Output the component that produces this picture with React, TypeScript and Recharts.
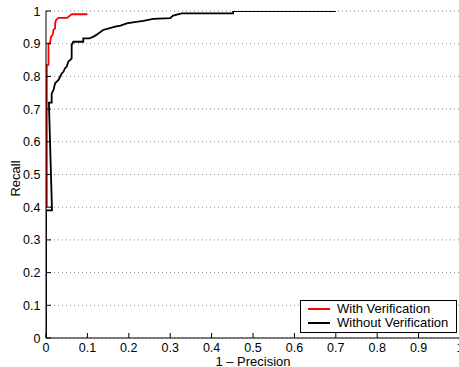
import React from 'react';
import { LineChart, Line, XAxis, YAxis, CartesianGrid } from 'recharts';

// Tick values / labels
const xTicks = [0, 0.1, 0.2, 0.3, 0.4, 0.5, 0.6, 0.7, 0.8, 0.9, 1];
const yTicks = [0, 0.1, 0.2, 0.3, 0.4, 0.5, 0.6, 0.7, 0.8, 0.9, 1];
const xTickLabels = ['0', '0.1', '0.2', '0.3', '0.4', '0.5', '0.6', '0.7', '0.8', '0.9', '1'];
const yTickLabels = ['0', '0.1', '0.2', '0.3', '0.4', '0.5', '0.6', '0.7', '0.8', '0.9', '1'];

// Series names
const seriesNames = ['With Verification', 'Without Verification'];

// "With Verification" curve: 1 - precision and recall
const withVerifX = [0.002, 0.002, 0.006, 0.006, 0.0097, 0.012, 0.016, 0.018, 0.022, 0.022, 0.024, 0.030, 0.051, 0.062, 0.100];
const withVerifY = [0.40, 0.835, 0.835, 0.901, 0.901, 0.921, 0.927, 0.942, 0.947, 0.962, 0.972, 0.979, 0.979, 0.990, 0.990];

// "Without Verification" curve
const withoutVerifX = [0, 0, 0.0145, 0.007, 0.0137, 0.0137, 0.018, 0.022, 0.030, 0.034, 0.038, 0.042, 0.046, 0.050, 0.054, 0.058, 0.062, 0.062, 0.066, 0.090, 0.090, 0.105, 0.118, 0.125, 0.138, 0.150, 0.167, 0.180, 0.195, 0.210, 0.235, 0.259, 0.300, 0.307, 0.328, 0.452, 0.452, 0.700];
const withoutVerifY = [0, 0.39, 0.39, 0.72, 0.72, 0.748, 0.758, 0.779, 0.789, 0.799, 0.809, 0.814, 0.825, 0.830, 0.845, 0.850, 0.855, 0.896, 0.906, 0.906, 0.916, 0.916, 0.924, 0.930, 0.942, 0.946, 0.952, 0.955, 0.962, 0.965, 0.970, 0.976, 0.978, 0.986, 0.993, 0.993, 1.0, 1.0];

const withData = withVerifX.map((x, i) => ({ x, y: withVerifY[i] }));
const withoutData = withoutVerifX.map((x, i) => ({ x, y: withoutVerifY[i] }));

const FONT = '"Liberation Sans", Arial, Helvetica, sans-serif';

const labelFor = (arr: number[], labels: string[], v: number) => {
  const i = arr.findIndex((t) => Math.abs(t - v) < 1e-9);
  return i >= 0 ? labels[i] : String(v);
};

const BottomTick = (props: any) => {
  const { x, y, payload } = props;
  return (
    <g>
      <line x1={x} x2={x} y1={y} y2={y - 5} stroke="#000" strokeWidth={1} />
      <text x={x} y={y + 14} textAnchor="middle" fontSize={12.5} fontFamily={FONT} fill="#000">
        {labelFor(xTicks, xTickLabels, payload.value)}
      </text>
    </g>
  );
};

const TopTick = (props: any) => {
  const { x, y } = props;
  return <line x1={x} x2={x} y1={y} y2={y + 5} stroke="#000" strokeWidth={1} />;
};

const LeftTick = (props: any) => {
  const { x, y, payload } = props;
  return (
    <g>
      <line x1={x} x2={x + 5} y1={y} y2={y} stroke="#000" strokeWidth={1} />
      <text x={x - 5.5} y={y + 4.5} textAnchor="end" fontSize={12.5} fontFamily={FONT} fill="#000">
        {labelFor(yTicks, yTickLabels, payload.value)}
      </text>
    </g>
  );
};

const RightTick = (props: any) => {
  const { x, y } = props;
  return <line x1={x} x2={x - 5} y1={y} y2={y} stroke="#000" strokeWidth={1} />;
};

export default function App() {
  return (
    <div style={{ position: 'absolute', left: 0, top: 0, width: 459, height: 367, overflow: 'hidden', background: '#fff', fontFamily: FONT }}>
      <LineChart width={460} height={367} margin={{ top: 11, right: 0, bottom: 0, left: 0 }}>
        <CartesianGrid xAxisId="bottom" yAxisId="left" vertical={false} horizontal={true} stroke="#8a8a8a" strokeDasharray="1 3" />
        <XAxis
          xAxisId="bottom"
          dataKey="x"
          type="number"
          domain={[0, 1]}
          ticks={xTicks}
          allowDataOverflow
          height={29}
          tickSize={0}
          tickMargin={0}
          tickLine={false}
          axisLine={{ stroke: '#000', strokeWidth: 1 }}
          tick={BottomTick}
          interval={0}
          label={(p: any) => {
            const vb = p.viewBox || { x: 46, y: 338, width: 414, height: 29 };
            return (
              <text x={vb.x + vb.width / 2} y={365.5} textAnchor="middle" fontSize={13} fontFamily={FONT} fill="#000">
                1 {'\u2013'} Precision
              </text>
            );
          }}
        />
        <XAxis
          xAxisId="top"
          orientation="top"
          dataKey="x"
          type="number"
          domain={[0, 1]}
          ticks={xTicks}
          allowDataOverflow
          height={0}
          tickSize={0}
          tickMargin={0}
          tickLine={false}
          axisLine={{ stroke: '#000', strokeWidth: 1 }}
          tick={TopTick}
          interval={0}
        />
        <YAxis
          yAxisId="left"
          type="number"
          domain={[0, 1]}
          ticks={yTicks}
          allowDataOverflow
          width={46}
          tickSize={0}
          tickMargin={0}
          tickLine={false}
          axisLine={{ stroke: '#000', strokeWidth: 1 }}
          tick={LeftTick}
          interval={0}
          label={(p: any) => {
            const vb = p.viewBox || { x: 0, y: 11, width: 46, height: 327 };
            const cx = 15;
            const cy = vb.y + vb.height / 2 + 4;
            return (
              <text x={cx} y={cy} transform={`rotate(-90 ${cx} ${cy})`} textAnchor="middle" dominantBaseline="central" fontSize={13} fontFamily={FONT} fill="#000">
                Recall
              </text>
            );
          }}
        />
        <YAxis
          yAxisId="right"
          orientation="right"
          type="number"
          domain={[0, 1]}
          ticks={yTicks}
          allowDataOverflow
          width={0}
          tickSize={0}
          tickMargin={0}
          tickLine={false}
          axisLine={{ stroke: '#000', strokeWidth: 1 }}
          tick={RightTick}
          interval={0}
        />
        <Line
          xAxisId="bottom"
          yAxisId="left"
          data={withoutData}
          dataKey="y"
          name={seriesNames[1]}
          type="linear"
          stroke="#000"
          strokeWidth={1.8}
          dot={false}
          isAnimationActive={false}
        />
        <Line
          xAxisId="bottom"
          yAxisId="left"
          data={withData}
          dataKey="y"
          name={seriesNames[0]}
          type="linear"
          stroke="#ff0000"
          strokeWidth={1.8}
          dot={false}
          isAnimationActive={false}
        />
      </LineChart>
      <div style={{ position: 'absolute', left: 300, top: 300, width: 157, height: 33, border: '1px solid #000', background: '#fff', boxSizing: 'border-box' }} />
      <div style={{ position: 'absolute', left: 308, top: 308, width: 22, height: 2, background: '#ff0000' }} />
      <div style={{ position: 'absolute', left: 337, top: 302, lineHeight: '14px', fontSize: 13, color: '#000', whiteSpace: 'nowrap' }}>{seriesNames[0]}</div>
      <div style={{ position: 'absolute', left: 308, top: 322, width: 22, height: 2, background: '#000' }} />
      <div style={{ position: 'absolute', left: 337, top: 316, lineHeight: '14px', fontSize: 13, color: '#000', whiteSpace: 'nowrap' }}>{seriesNames[1]}</div>
    </div>
  );
}
